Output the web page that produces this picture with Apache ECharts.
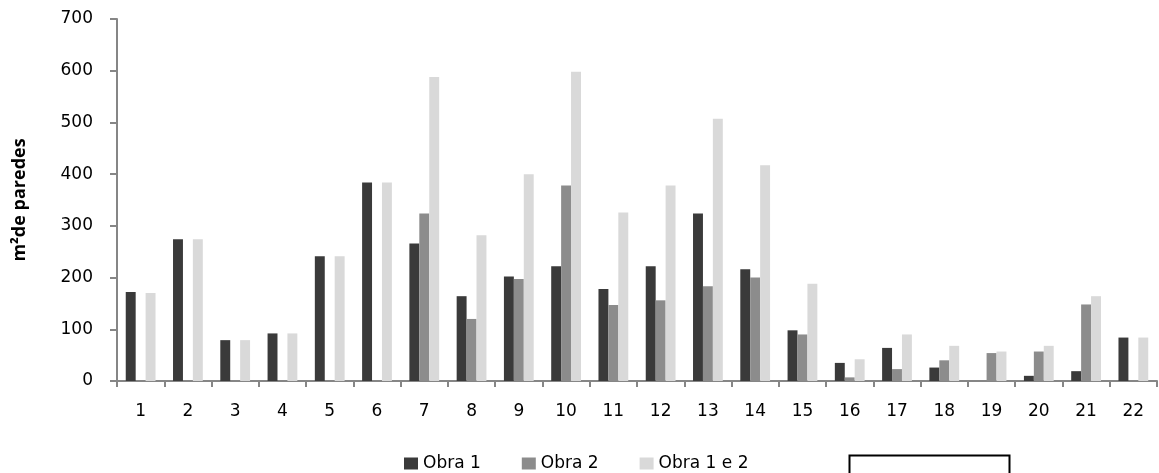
<!DOCTYPE html>
<html>
<head>
<meta charset="utf-8">
<script src="https://cdn.jsdelivr.net/npm/echarts@6/dist/echarts.min.js"></script>
<style>
html,body{margin:0;padding:0;background:#fff;}
#chart{width:1159px;height:473px;}
</style>
</head>
<body>
<div id="chart"></div>
<script>
var categories = ['1','2','3','4','5','6','7','8','9','10','11','12','13','14','15','16','17','18','19','20','21','22'];
var obra1 = [172, 274, 79, 92, 241, 384, 266, 164, 202, 222, 178, 222, 324, 216, 98, 35, 64, 26, null, 10, 19, 84];
var obra2 = [null, null, null, null, null, null, 324, 120, 197, 378, 147, 156, 183, 200, 90, 7, 23, 40, 54, 57, 148, null];
var obra12 = [170, 274, 79, 92, 241, 384, 588, 282, 400, 598, 326, 378, 507, 417, 188, 42, 90, 68, 57, 68, 164, 84];
var yTicks = {min: 0, max: 700, interval: 100};

var chart = echarts.init(document.getElementById('chart'), null, {renderer: 'canvas'});
var axisColor = '#868686';
var font = 'DejaVu Sans';
chart.setOption({
  animation: false,
  backgroundColor: '#ffffff',
  grid: {left: 117, right: 2, top: 19, bottom: 92, containLabel: false},
  legend: {
    top: 450,
    left: 399,
    itemWidth: 14,
    itemHeight: 12,
    itemGap: 41,
    icon: 'rect',
    textStyle: {fontFamily: font, fontSize: 17, color: '#000'},
    data: ['Obra 1', 'Obra 2', 'Obra 1 e 2']
  },
  xAxis: {
    type: 'category',
    data: categories,
    axisLine: {lineStyle: {color: axisColor, width: 2}},
    axisTick: {show: true, alignWithLabel: false, length: 6, lineStyle: {color: axisColor, width: 2}},
    axisLabel: {fontFamily: font, fontSize: 17, color: '#000', margin: 22}
  },
  yAxis: {
    type: 'value',
    min: yTicks.min, max: yTicks.max, interval: yTicks.interval,
    name: 'm²de paredes',
    nameLocation: 'middle',
    nameGap: 88,
    nameTextStyle: {fontFamily: 'Open Sans', fontWeight: 'bold', fontSize: 18, color: '#000'},
    axisLine: {show: true, lineStyle: {color: axisColor, width: 2}},
    axisTick: {show: true, length: 7, lineStyle: {color: axisColor, width: 2}},
    splitLine: {show: false},
    axisLabel: {fontFamily: font, fontSize: 17, color: '#000', margin: 24}
  },
  series: [
    {name: 'Obra 1', type: 'bar', data: obra1, barGap: '0%', barCategoryGap: '37%', itemStyle: {color: '#3a3a3a'}},
    {name: 'Obra 2', type: 'bar', data: obra2, barGap: '0%', barCategoryGap: '37%', itemStyle: {color: '#8c8c8c'}},
    {name: 'Obra 1 e 2', type: 'bar', data: obra12, barGap: '0%', barCategoryGap: '37%', itemStyle: {color: '#d9d9d9'}}
  ],
  graphic: [
    {type: 'rect', left: 847, top: 453, shape: {width: 160, height: 40}, style: {fill: 'none', stroke: '#000', lineWidth: 2}}
  ]
});
</script>
</body>
</html>
